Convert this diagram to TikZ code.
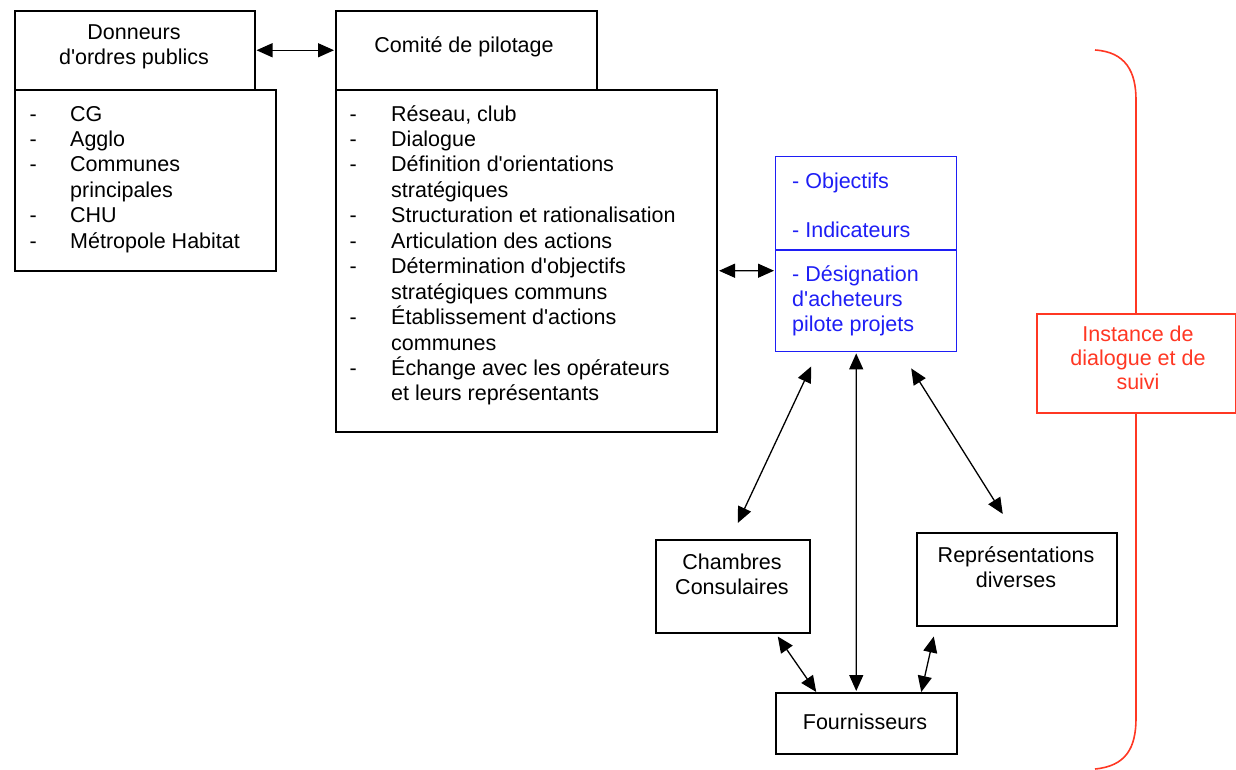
\documentclass[tikz,border=0pt]{standalone}
\usepackage{fontspec}
\newfontfamily\arial{Liberation Sans}
\usetikzlibrary{arrows.meta}
\definecolor{bl}{RGB}{30,30,245}
\definecolor{rd}{RGB}{255,55,35}
\begin{document}
\begin{tikzpicture}[x=1pt,y=-1pt,
  box/.style={draw, line width=1.5pt, inner sep=0pt, anchor=north west},
  txt/.style={font=\arial\fontsize{21.5}{25.5}\selectfont, inner sep=0pt, anchor=base west},
  ctxt/.style={txt, anchor=base},
  dbl/.style={{Triangle[length=16pt,width=14pt]}-{Triangle[length=16pt,width=14pt]}, line width=1.3pt}]
\useasboundingbox (0,0) rectangle (1236,769);

% red bracket
\draw[rd, line width=1.6pt] (1095,50) .. controls (1126,52) and (1136,72) .. (1136,100)
  -- (1136,718) .. controls (1136,748) and (1126,766) .. (1095,769);
\node[box, draw=rd, fill=white, minimum width=199pt, minimum height=99pt] (inst) at (1036,313) {};
\node[ctxt, text=rd] (inst1) at (1138,341.5) {Instance de};
\node[ctxt, text=rd] (inst2) at (1138,365.5) {dialogue et de};
\node[ctxt, text=rd] (inst3) at (1138,389.5) {suivi};

% Donneurs
\node[box, minimum width=240pt, minimum height=79pt] (donH) at (14,10) {};
\node[box, minimum width=261pt, minimum height=181pt] (donL) at (14,89) {};
\node[ctxt] (donT1) at (134,39.5) {Donneurs};
\node[ctxt] (donT2) at (134,64.5) {d'ordres publics};
\foreach \t/\d [count=\i from 0] in {CG/-, Agglo/-, Communes/-, principales/, CHU/-, Métropole Habitat/-}{
  \node[txt] (dl\i) at (70,121+25.4*\i) {\t};
  \node[txt] (dd\i) at (29.5,121+25.4*\i) {\d};
}

% Comite
\node[box, minimum width=261pt, minimum height=79pt] (comH) at (335,10) {};
\node[box, minimum width=381pt, minimum height=342pt] (comL) at (335,89) {};
\node[ctxt] (comT) at (464,52.5) {Comité de pilotage};
\foreach \t/\d [count=\i from 0] in {{Réseau, club}/-, Dialogue/-, Définition d'orientations/-, stratégiques/,
  Structuration et rationalisation/-, Articulation des actions/-, Détermination d'objectifs/-,
  stratégiques communs/, Établissement d'actions/-, communes/, Échange avec les opérateurs/-,
  et leurs représentants/}{
  \node[txt] (cl\i) at (391,121+25.45*\i) {\t};
  \node[txt] (cd\i) at (349.5,121+25.45*\i) {\d};
}

% blue box
\node[box, draw=bl, line width=1.4pt, minimum width=181pt, minimum height=195pt] (blue) at (775,156) {};
\draw[bl, line width=1.4pt] ([yshift=-94pt]blue.north west) -- ([yshift=-94pt]blue.north east);
\node[txt, text=bl] (b1) at (792,188) {- Objectifs};
\node[txt, text=bl] (b2) at (792,237.5) {- Indicateurs};
\node[txt, text=bl] (b3) at (792,281) {- Désignation};
\node[txt, text=bl] (b4) at (792,306) {d'acheteurs};
\node[txt, text=bl] (b5) at (792,331) {pilote projets};

% lower boxes
\node[box, minimum width=154pt, minimum height=93pt] (cham) at (655,539) {};
\node[ctxt] (chamT1) at (732,569.5) {Chambres};
\node[ctxt] (chamT2) at (732,594.5) {Consulaires};
\node[box, minimum width=200pt, minimum height=93pt] (repr) at (916,532) {};
\node[ctxt] (reprT1) at (1016,562.5) {Représentations};
\node[ctxt] (reprT2) at (1016,587.5) {diverses};
\node[box, minimum width=181pt, minimum height=61pt] (four) at (775,692) {};
\node[ctxt] (fourT) at (865,729.5) {Fournisseurs};

% arrows
\draw[dbl] ([xshift=1pt]donH.east) -- ([xshift=-1pt]comH.west);
\draw[dbl] ([xshift=1.5pt,yshift=-10pt]comL.east) -- ([xshift=-1pt,yshift=-16.5pt]blue.west);
\draw[dbl] ([xshift=-55pt,yshift=-14pt]blue.south) -- ([xshift=5pt,yshift=16pt]cham.north);
\draw[dbl] ([xshift=-10pt,yshift=-1pt]blue.south) -- ([xshift=-10pt,yshift=1pt]four.north);
\draw[dbl] ([xshift=45pt,yshift=-16pt]blue.south) -- ([xshift=-14pt,yshift=18pt]repr.north);
\draw[dbl] ([xshift=45pt,yshift=-3pt]cham.south) -- ([xshift=-50pt]four.north);
\draw[dbl] ([xshift=-83pt,yshift=-10pt]repr.south) -- ([xshift=55pt]four.north);
\end{tikzpicture}
\end{document}
